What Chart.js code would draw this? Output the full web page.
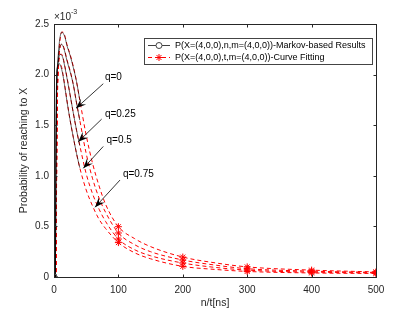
<!DOCTYPE html>
<html>
<head>
<meta charset="utf-8">
<script src="https://cdn.jsdelivr.net/npm/chart.js@4.4.0/dist/chart.umd.min.js"></script>
<style>
  html, body { margin: 0; padding: 0; background: #fff; }
</style>
</head>
<body>
<canvas id="chart" width="415" height="312"></canvas>
<script>
// values are in units of 1e-3
const nFit = [0, 3, 4, 5, 6, 8, 10, 12, 14, 17, 20, 25, 30, 35, 40, 50, 60, 70, 80, 100, 125, 150, 200, 250, 300, 400, 500];
const fitQ0   = [0, 0, 1.1, 1.8, 2.0, 2.1, 2.1, 2.07, 2.0, 1.88, 1.75, 1.55, 1.38, 1.22, 1.08, 0.86, 0.7, 0.57, 0.48, 0.34, 0.24, 0.18, 0.105, 0.075, 0.055, 0.04, 0.035];
const fitQ25  = [0, 0, 1.05, 1.75, 2.0, 2.15, 2.2, 2.2, 2.17, 2.08, 1.98, 1.8, 1.62, 1.45, 1.3, 1.02, 0.82, 0.67, 0.55, 0.375, 0.27, 0.21, 0.138, 0.095, 0.068, 0.048, 0.04];
const fitQ50  = [0, 0, 1.0, 1.7, 2.0, 2.2, 2.28, 2.3, 2.29, 2.23, 2.15, 2.04, 1.9, 1.72, 1.55, 1.22, 0.97, 0.78, 0.64, 0.435, 0.32, 0.25, 0.168, 0.118, 0.082, 0.058, 0.045];
const fitQ75  = [0, 0, 0.9, 1.6, 1.95, 2.25, 2.37, 2.42, 2.42, 2.38, 2.3, 2.2, 2.08, 1.93, 1.75, 1.4, 1.12, 0.9, 0.72, 0.497, 0.38, 0.3, 0.197, 0.14, 0.1, 0.068, 0.05];

// Markov-based results, visible under the fits up to roughly n = 40
const nMarkov = [0, 2, 3, 4, 6, 8, 10, 12, 14, 17, 20, 25, 30, 35, 40];
const markovQ0  = [0, 0, 1.3, 1.95, 2.08, 2.11, 2.09, 2.05, 1.99, 1.87, 1.74, 1.55, 1.38, 1.22, 1.08];
const markovQ25 = [0, 0, 1.2, 1.9, 2.1, 2.18, 2.2, 2.19, 2.16, 2.07, 1.97, 1.8, 1.62, 1.45, 1.3];
const markovQ50 = [0, 0, 1.1, 1.85, 2.12, 2.24, 2.29, 2.3, 2.28, 2.22, 2.14, 2.03, 1.9, 1.72, 1.55];
const markovQ75 = [0, 0, 1.0, 1.75, 2.12, 2.3, 2.39, 2.42, 2.41, 2.37, 2.29, 2.19, 2.07, 1.93, 1.75];

const fitMarkerAt = [100, 200, 300, 400, 500];
const markovMarkerAt = [0];

const xTicks = [0, 100, 200, 300, 400, 500];
const yTicks = [0, 0.5, 1, 1.5, 2, 2.5];
const qLabels = ['q=0', 'q=0.25', 'q=0.5', 'q=0.75'];
const legendLabels = [
    'P(X=(4,0,0),n,m=(4,0,0))-Markov-based Results',
    'P(X=(4,0,0),t,m=(4,0,0))-Curve Fitting'
];

const FONT = "'Liberation Sans', Arial, Helvetica, sans-serif";
const AXIS = '#262626';
const MARKOV_COLOR = 'rgba(0,0,0,0.6)';

function toPoints(xs, ys) {
    return xs.map((v, i) => ({ x: v, y: ys[i] }));
}

function markovSet(ys) {
    return {
        data: toPoints(nMarkov, ys),
        borderColor: MARKOV_COLOR,
        borderWidth: 1,
        cubicInterpolationMode: 'monotone',
        pointStyle: 'circle',
        pointRadius: c => markovMarkerAt.includes(c.raw.x) ? 3 : 0,
        pointBackgroundColor: 'rgba(0,0,0,0)',
        pointBorderColor: '#555',
        pointBorderWidth: 1
    };
}

function fitSet(ys) {
    return {
        data: toPoints(nFit, ys),
        borderColor: '#ff0000',
        borderWidth: 1,
        borderDash: [4, 3],
        cubicInterpolationMode: 'monotone',
        pointStyle: 'star',
        pointRadius: c => fitMarkerAt.includes(c.raw.x) ? 3.5 : 0,
        pointBorderColor: '#ff0000',
        pointBackgroundColor: '#ff0000',
        pointBorderWidth: 1
    };
}

// arrows for the q labels, in data units: [text pos, arrow start, arrow tip]
const arrows = [
    { text: [79, 1.97], from: [76.5, 1.91], to: [34.2, 1.667] },
    { text: [79, 1.61], from: [74, 1.56], to: [37.7, 1.337] },
    { text: [81.5, 1.35], from: [76.5, 1.29], to: [45.5, 1.074] },
    { text: [107, 1.02], from: [102.5, 0.958], to: [63.7, 0.689] }
];

function drawArrow(ctx, x1, y1, x2, y2) {
    ctx.beginPath();
    ctx.moveTo(x1, y1);
    ctx.lineTo(x2, y2);
    ctx.stroke();
    const ang = Math.atan2(y2 - y1, x2 - x1);
    const len = 10, half = 4;
    const bx = x2 - len * Math.cos(ang), by = y2 - len * Math.sin(ang);
    const nx = x2 - len * 0.6 * Math.cos(ang), ny = y2 - len * 0.6 * Math.sin(ang);
    ctx.beginPath();
    ctx.moveTo(x2, y2);
    ctx.lineTo(bx + half * Math.sin(ang), by - half * Math.cos(ang));
    ctx.lineTo(nx, ny);
    ctx.lineTo(bx - half * Math.sin(ang), by + half * Math.cos(ang));
    ctx.closePath();
    ctx.fill();
}

function drawStar(ctx, cx, cy, r) {
    ctx.beginPath();
    for (let k = 0; k < 4; k++) {
        const a = k * Math.PI / 4;
        ctx.moveTo(cx - r * Math.cos(a), cy - r * Math.sin(a));
        ctx.lineTo(cx + r * Math.cos(a), cy + r * Math.sin(a));
    }
    ctx.stroke();
}

const overlay = {
    id: 'overlay',
    afterDraw(chart) {
        const { ctx, chartArea: a, scales: { x, y } } = chart;
        ctx.save();
        ctx.strokeStyle = AXIS;
        ctx.lineWidth = 1;
        const L = Math.round(a.left) + 0.5, R = Math.round(a.right) + 0.5;
        const T = Math.round(a.top) + 0.5, B = Math.round(a.bottom) + 0.5;
        ctx.strokeRect(L, T, R - L, B - T);

        // inward ticks
        ctx.beginPath();
        xTicks.forEach(v => {
            const px = Math.round(x.getPixelForValue(v)) + 0.5;
            ctx.moveTo(px, B); ctx.lineTo(px, B - 3);
            ctx.moveTo(px, T); ctx.lineTo(px, T + 3);
        });
        yTicks.forEach(v => {
            const py = Math.round(y.getPixelForValue(v)) + 0.5;
            ctx.moveTo(L, py); ctx.lineTo(L + 3, py);
            ctx.moveTo(R, py); ctx.lineTo(R - 3, py);
        });
        ctx.stroke();

        // exponent
        ctx.fillStyle = AXIS;
        ctx.textBaseline = 'alphabetic';
        ctx.textAlign = 'left';
        ctx.font = '10px ' + FONT;
        ctx.fillText('\u00d710', a.left, a.top - 4);
        const w = ctx.measureText('\u00d710').width;
        ctx.font = '7px ' + FONT;
        ctx.fillText('-3', a.left + w, a.top - 10);

        // q labels with arrows
        ctx.fillStyle = '#000';
        ctx.strokeStyle = '#000';
        ctx.lineWidth = 0.8;
        ctx.font = '10px ' + FONT;
        ctx.textBaseline = 'middle';
        arrows.forEach((ar, i) => {
            ctx.fillText(qLabels[i], x.getPixelForValue(ar.text[0]), y.getPixelForValue(ar.text[1]));
            drawArrow(ctx,
                x.getPixelForValue(ar.from[0]), y.getPixelForValue(ar.from[1]),
                x.getPixelForValue(ar.to[0]), y.getPixelForValue(ar.to[1]));
        });

        // legend
        const lx = 144.5, ly = 38.5, lw = 228, lh = 26;
        ctx.fillStyle = '#fff';
        ctx.fillRect(lx, ly, lw, lh);
        ctx.strokeStyle = '#444';
        ctx.lineWidth = 1;
        ctx.strokeRect(lx, ly, lw, lh);
        const rows = [ly + 7, ly + 19];
        // markov sample
        ctx.strokeStyle = 'rgba(0,0,0,0.75)';
        ctx.beginPath();
        ctx.moveTo(148, rows[0]); ctx.lineTo(170, rows[0]);
        ctx.stroke();
        ctx.fillStyle = '#fff';
        ctx.beginPath();
        ctx.arc(159, rows[0], 3, 0, Math.PI * 2);
        ctx.fill();
        ctx.strokeStyle = '#444';
        ctx.stroke();
        // fit sample
        ctx.strokeStyle = '#ff0000';
        ctx.setLineDash([4, 3]);
        ctx.beginPath();
        ctx.moveTo(148, rows[1]); ctx.lineTo(170, rows[1]);
        ctx.stroke();
        ctx.setLineDash([]);
        drawStar(ctx, 159, rows[1], 3.5);

        ctx.fillStyle = '#000';
        ctx.font = '9px ' + FONT;
        ctx.textBaseline = 'middle';
        legendLabels.forEach((t, i) => ctx.fillText(t, 175, rows[i]));
        ctx.restore();
    }
};

new Chart(document.getElementById('chart'), {
    type: 'line',
    data: {
        datasets: [
            markovSet(markovQ0), markovSet(markovQ25), markovSet(markovQ50), markovSet(markovQ75),
            fitSet(fitQ0), fitSet(fitQ25), fitSet(fitQ50), fitSet(fitQ75)
        ]
    },
    options: {
        responsive: false,
        animation: false,
        layout: { padding: { top: 24, right: 39, left: 0, bottom: 0 } },
        plugins: { legend: { display: false }, tooltip: { enabled: false } },
        scales: {
            x: {
                type: 'linear',
                min: 0, max: 500,
                afterBuildTicks: s => { s.ticks = xTicks.map(v => ({ value: v })); },
                ticks: { color: AXIS, font: { family: FONT, size: 10 }, padding: 7, maxRotation: 0 },
                grid: { display: false, drawTicks: false },
                border: { display: false },
                title: { display: true, text: 'n/t[ns]', color: AXIS, font: { family: FONT, size: 10.5 }, padding: { top: 0, bottom: 3 } },
                afterFit: s => { s.height = 35; }
            },
            y: {
                type: 'linear',
                min: 0, max: 2.5,
                afterBuildTicks: s => { s.ticks = yTicks.map(v => ({ value: v })); },
                ticks: { color: AXIS, font: { family: FONT, size: 10 }, padding: 5 },
                grid: { display: false, drawTicks: false },
                border: { display: false },
                title: { display: true, text: 'Probability of reaching to X', color: AXIS, font: { family: FONT, size: 10.5 }, padding: { top: 18, bottom: 0 } },
                afterFit: s => { s.width = 54; }
            }
        }
    },
    plugins: [overlay]
});
</script>
</body>
</html>
